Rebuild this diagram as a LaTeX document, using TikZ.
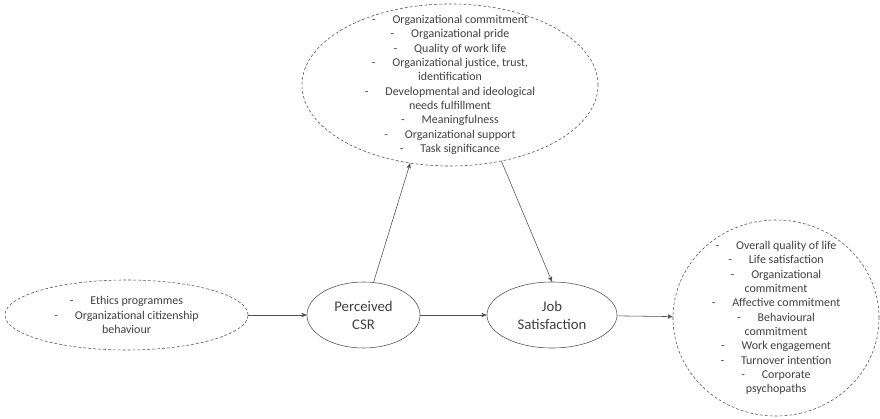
\documentclass[tikz,border=0pt]{standalone}
\usepackage{fontspec}
\setmainfont{Carlito}
\usepackage{tikz}
\usetikzlibrary{arrows,shapes.geometric}
\usepackage{color}
\definecolor{inkgray}{RGB}{64,64,64}
\definecolor{linegray}{RGB}{80,80,80}
\newcommand{\dashitem}{-\hspace{12pt}}

\begin{document}
\begin{tikzpicture}[->,>=stealth',shorten >=0pt,thin,draw=linegray,
		x=0.025cm,y=-0.025cm]
		\tikzstyle{factor}=[ellipse,draw=linegray,thin,dash pattern=on 2pt off 1.5pt]
		\tikzstyle{core}=[ellipse,draw=linegray,thin,font=\fontsize{10.5}{12.8}\selectfont,text=inkgray,align=center]
		\tikzstyle{listtext}=[font=\fontsize{8.5}{10.2}\selectfont,text=inkgray,align=center,inner sep=0pt]
		\useasboundingbox (0,0) rectangle (880,419);
		
		\node[factor,minimum width=7.4cm,minimum height=4.05cm] (med) at (450,85) {};
		\node[factor,minimum width=6.075cm,minimum height=1.75cm] (ante) at (126.5,315) {};
		\node[factor,minimum width=5.15cm,minimum height=4.9cm] (outc) at (776,318) {};
		\node[core,minimum width=2.825cm,minimum height=1.65cm] (csr) at (363.5,315) {Perceived\\CSR};
		\node[core,minimum width=3.25cm,minimum height=1.65cm] (js) at (552,315) {Job\\Satisfaction};
		
		\node[listtext] (medtxt) at (med) {\dashitem Organizational commitment\\
			\dashitem Organizational pride\\
			\dashitem Quality of work life\\
			\dashitem Organizational justice, trust,\\
			identification\\
			\dashitem Developmental and ideological\\
			needs fulfillment\\
			\dashitem Meaningfulness\\
			\dashitem Organizational support\\
			\dashitem Task significance};
		\node[listtext] (antetxt) at (ante) {\dashitem Ethics programmes\\
			\dashitem Organizational citizenship\\
			behaviour};
		\node[listtext] (outctxt) at (outc) {\dashitem Overall quality of life\\
			\dashitem Life satisfaction\\
			\dashitem Organizational\\
			commitment\\
			\dashitem Affective commitment\\
			\dashitem Behavioural\\
			commitment\\
			\dashitem Work engagement\\
			\dashitem Turnover intention\\
			\dashitem Corporate\\
			psychopaths};
		
		\path (ante) edge (csr)
		(csr) edge (js)
		edge (med.243)
		(med.304) edge (js.north)
		(js) edge (outc);
		\end{tikzpicture}
\end{document}
